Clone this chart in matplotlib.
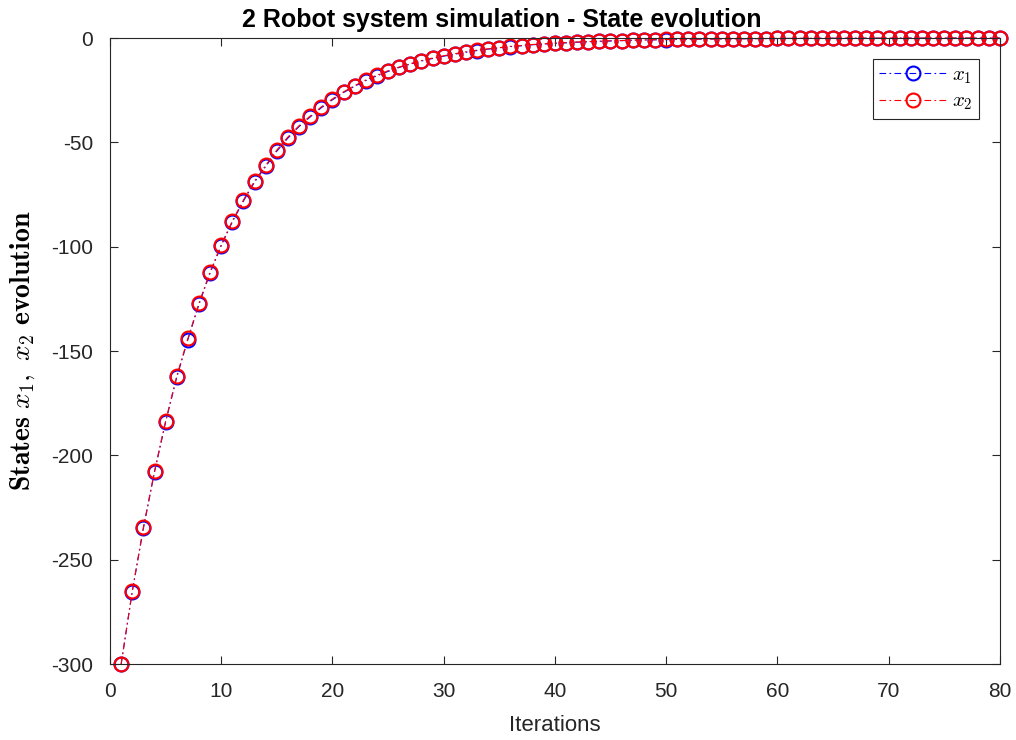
import numpy as np
import matplotlib
matplotlib.use("Agg")
import matplotlib.pyplot as plt

plt.rcParams['font.family'] = ['Liberation Sans', 'DejaVu Sans']
plt.rcParams['mathtext.fontset'] = 'cm'
plt.rcParams['axes.unicode_minus'] = False

# state trajectories read per iteration
iterations = list(range(1, 81))
x2 = [-300.0, -265.0, -234.5, -207.5, -183.5, -162.0, -144.0, -127.0, -112.0, -99.0,
      -87.6, -77.6, -68.5, -61.0, -53.7, -47.4, -42.0, -37.4, -33.0, -29.2,
      -25.8, -22.8, -20.1, -17.8, -15.7, -13.9, -12.3, -10.8, -9.6, -8.5,
      -7.5, -6.6, -5.8, -5.2, -4.6, -4.0, -3.6, -3.1, -2.8, -2.4,
      -2.2, -1.9, -1.7, -1.5, -1.3, -1.2, -1.0, -0.9, -0.8, -0.7,
      -0.6, -0.55, -0.5, -0.45, -0.4, -0.35, -0.3, -0.27, -0.24, -0.21,
      -0.19, -0.17, -0.15, -0.13, -0.12, -0.1, -0.09, -0.08, -0.07, -0.06,
      -0.05, -0.05, -0.04, -0.04, -0.03, -0.03, -0.02, -0.02, -0.02, -0.01]
x1 = [-300.0, -265.3, -235.0, -208.0, -184.0, -162.6, -144.5, -127.6, -112.6, -99.5,
      -88.1, -78.1, -69.0, -61.5, -54.2, -47.9, -42.4, -37.8, -33.4, -29.6,
      -26.1, -23.1, -20.4, -18.1, -16.0, -14.1, -12.5, -11.0, -9.8, -8.7,
      -7.7, -6.8, -6.0, -5.3, -4.7, -4.1, -3.7, -3.2, -2.9, -2.5,
      -2.3, -2.0, -1.8, -1.6, -1.4, -1.25, -1.05, -0.95, -0.85, -0.75,
      -0.65, -0.58, -0.52, -0.47, -0.42, -0.37, -0.32, -0.28, -0.25, -0.22,
      -0.2, -0.18, -0.16, -0.14, -0.12, -0.11, -0.1, -0.09, -0.08, -0.07,
      -0.06, -0.05, -0.05, -0.04, -0.04, -0.03, -0.03, -0.02, -0.02, -0.01]

fig = plt.figure(figsize=(10.16, 7.4), dpi=100)
ax = fig.add_axes([0.1083, 0.1027, 0.8757, 0.8459])

dash = (0, (6, 3, 1.5, 3))
ax.plot(iterations, x1, marker='o', ls=dash, color='blue', lw=0.8, ms=10, mew=1.5,
        mfc='none', label=r'$x_1$', clip_on=False)
ax.plot(iterations, x2, marker='o', ls=dash, color='red', lw=0.8, ms=10, mew=1.5,
        mfc='none', label=r'$x_2$', clip_on=False)

ax.set_xlim(0, 80)
ax.set_ylim(-300, 0)
ax.set_xticks(np.arange(0, 81, 10))
ax.set_yticks(np.arange(-300, 1, 50))
ax.tick_params(direction='in', top=True, right=True, labelsize=15,
               colors='#262626', length=6, width=0.8)
ax.tick_params(axis='x', pad=13)
ax.tick_params(axis='y', pad=12)
for sp in ax.spines.values():
    sp.set_color('#262626')
    sp.set_linewidth(0.8)

ax.set_title('2 Robot system simulation - State evolution', fontsize=18,
             fontweight='bold', pad=8, x=0.44)
ax.set_xlabel('Iterations', fontsize=16, color='#262626', labelpad=10)
ax.set_ylabel(r'$\mathbf{States}\ x_1,\ x_2\ \mathbf{evolution}$', fontsize=20,
              labelpad=10)

leg = ax.legend(loc='upper right', fontsize=15, fancybox=False, framealpha=1,
                edgecolor='#262626', borderaxespad=1.0, handlelength=3.2,
                borderpad=0.3, labelspacing=0.3, handletextpad=0.3)
leg.get_frame().set_linewidth(0.8)

fig.savefig('out.png', dpi=100)
